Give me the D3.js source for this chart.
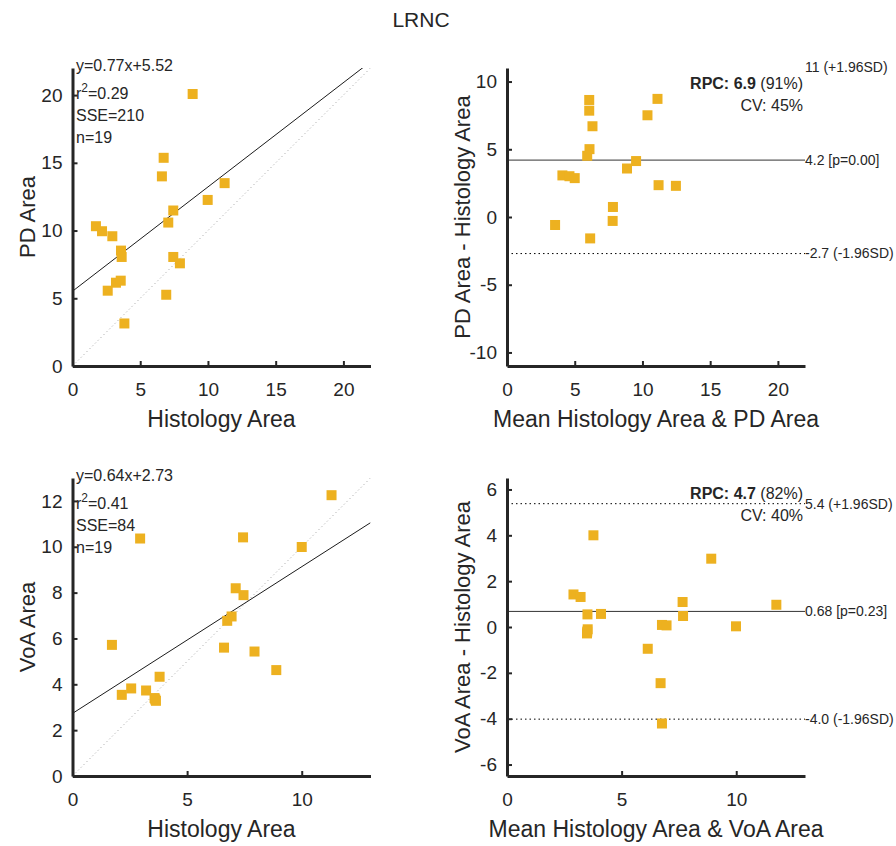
<!DOCTYPE html>
<html>
<head>
<meta charset="utf-8">
<script src="https://cdn.jsdelivr.net/npm/d3@7"></script>
<style>
  body { margin: 0; background: #fff; }
  text { font-family: Arial, "Liberation Sans", sans-serif; fill: #262626; }
</style>
</head>
<body>
<svg id="fig" width="896" height="846"></svg>
<script>
// ---- PD area vs histology ----
const pdHist = [8.87, 6.73, 6.60, 11.23, 9.98, 7.44, 7.07, 1.73, 2.18, 2.94, 3.58, 3.63, 7.44, 7.93, 3.21, 3.56, 2.60, 6.92, 3.83];
const pdArea = [20.08, 15.37, 14.00, 13.50, 12.26, 11.48, 10.59, 10.32, 9.95, 9.58, 8.52, 8.05, 8.05, 7.58, 6.15, 6.30, 5.56, 5.26, 3.14];
const pdFit = [0.77, 5.52];          // slope, intercept
const pdStats = ["0.29", "210", "19"]; // r^2, SSE, n

// Bland-Altman, PD vs histology (points outside the axes are not shown)
const pdMean = [6.07, 11.11, 6.07, 10.37, 6.31, 6.09, 5.92, 9.53, 8.86, 4.09, 4.61, 5.00, 11.19, 12.47, 7.82, 7.80, 3.55, 6.14];
const pdDiff = [8.64, 8.72, 7.85, 7.51, 6.70, 5.01, 4.52, 4.13, 3.58, 3.07, 3.01, 2.87, 2.35, 2.30, 0.74, -0.29, -0.59, -1.58];
const pdBias = 4.2, pdRPC = 6.9, pdRPCpct = 91, pdCV = 45, pdP = "0.00";

// ---- VoA area vs histology ----
const voaHist = [11.30, 2.95, 7.44, 10.00, 7.12, 7.46, 6.94, 6.75, 1.72, 6.61, 7.94, 8.89, 3.80, 2.56, 3.21, 2.15, 3.58, 3.64, 3.61];
const voaArea = [12.25, 10.36, 10.41, 9.99, 8.19, 7.89, 6.96, 6.77, 5.72, 5.60, 5.43, 4.62, 4.33, 3.82, 3.73, 3.54, 3.40, 3.28, 3.34];
const voaFit = [0.64, 2.73];
const voaStats = ["0.41", "84", "19"];

const voaMean = [3.77, 8.91, 2.90, 3.21, 7.66, 11.75, 3.51, 4.10, 7.68, 6.76, 6.96, 9.99, 3.52, 3.49, 3.50, 6.14, 6.70, 6.76];
const voaDiff = [4.00, 2.98, 1.42, 1.31, 1.09, 0.97, 0.55, 0.57, 0.48, 0.09, 0.07, 0.03, -0.10, -0.28, -0.20, -0.95, -2.45, -4.21];
const voaBias = 0.68, voaRPC = 4.7, voaRPCpct = 82, voaCV = 40, voaP = "0.23";

// ---- axis ticks ----
const ticks22 = [0, 5, 10, 15, 20];
const ticksBA22 = [-10, -5, 0, 5, 10];
const ticks13x = [0, 5, 10];
const ticks13y = [0, 2, 4, 6, 8, 10, 12];
const ticksBA6 = [-6, -4, -2, 0, 2, 4, 6];

const svg = d3.select("#fig");
const size = 298;
const cols = [72.5, 507];
const rows = [68, 478];
const markerColor = "#EDB120";
const ink = "#262626";

// plain hyphen-minus for negative numbers
const loc = d3.formatLocale({ decimal: ".", thousands: ",", grouping: [3], currency: ["$", ""], minus: "-" });
const fmt2 = loc.format(".2r");
const fmtTick = loc.format("d");

svg.append("text")
  .attr("x", 421).attr("y", 27)
  .attr("text-anchor", "middle")
  .style("font-size", "21px")
  .text("LRNC");

let clipId = 0;

function makePanel(left, top, xDomain, yDomain, xTicks, yTicks, xLabel, yLabel) {
  const g = svg.append("g").attr("transform", `translate(${left},${top})`);
  const x = d3.scaleLinear().domain(xDomain).range([0, size]);
  const y = d3.scaleLinear().domain(yDomain).range([size, 0]);
  const id = "clip" + (clipId++);
  g.append("clipPath").attr("id", id)
    .append("rect").attr("x", 0).attr("y", 0).attr("width", size).attr("height", size);
  const plot = g.append("g").attr("clip-path", `url(#${id})`);

  const ax = g.append("g").attr("transform", `translate(0,${size})`)
    .call(d3.axisBottom(x).tickValues(xTicks).tickFormat(fmtTick)
      .tickSizeInner(-5).tickSizeOuter(0).tickPadding(17));
  const ay = g.append("g")
    .call(d3.axisLeft(y).tickValues(yTicks).tickFormat(fmtTick)
      .tickSizeInner(-5).tickSizeOuter(0).tickPadding(10));
  [ax, ay].forEach(a => {
    a.select(".domain").attr("stroke", ink).attr("stroke-width", 3);
    a.selectAll(".tick line").attr("stroke", ink).attr("stroke-width", 2);
    a.selectAll(".tick text").style("font-size", "19px").attr("fill", ink);
  });

  g.append("text")
    .attr("x", size / 2).attr("y", size + 61)
    .attr("text-anchor", "middle")
    .style("font-size", "23px")
    .text(xLabel);
  g.append("text")
    .attr("transform", `translate(${-45},${size / 2}) rotate(-90)`)
    .attr("text-anchor", "middle")
    .attr("dy", "0.35em")
    .style("font-size", "22px")
    .text(yLabel);

  return { g, plot, x, y };
}

function drawSquares(p, xs, ys) {
  const s = 10;
  p.plot.selectAll("rect.pt")
    .data(xs.map((v, i) => [v, ys[i]]))
    .join("rect")
    .attr("class", "pt")
    .attr("x", d => p.x(d[0]) - s / 2)
    .attr("y", d => p.y(d[1]) - s / 2)
    .attr("width", s).attr("height", s)
    .attr("fill", markerColor);
}

function scatterPanel(left, top, xs, ys, dom, xTicks, yTicks, fit, stats, xLabel, yLabel) {
  const p = makePanel(left, top, dom, dom, xTicks, yTicks, xLabel, yLabel);
  // line of identity
  p.plot.append("line")
    .attr("x1", p.x(dom[0])).attr("y1", p.y(dom[0]))
    .attr("x2", p.x(dom[1])).attr("y2", p.y(dom[1]))
    .attr("stroke", "#9a9a9a").attr("stroke-width", 1).attr("stroke-dasharray", "1,3");
  // least-squares fit
  const line = d3.line().x(d => p.x(d)).y(d => p.y(fit[0] * d + fit[1]));
  p.plot.append("path")
    .attr("d", line(dom))
    .attr("fill", "none").attr("stroke", "#000").attr("stroke-width", 0.9);
  drawSquares(p, xs, ys);

  const t = p.g.append("g").style("font-size", "16px");
  t.append("text").attr("x", 3.5).attr("y", 3).text(`y=${fit[0]}x+${fit[1]}`);
  const r2 = t.append("text").attr("x", 3.5).attr("y", 31);
  r2.append("tspan").text("r");
  r2.append("tspan").attr("dy", -7).style("font-size", "12px").text("2");
  r2.append("tspan").attr("dy", 7).text("=" + stats[0]);
  t.append("text").attr("x", 3.5).attr("y", 53).text("SSE=" + stats[1]);
  t.append("text").attr("x", 3.5).attr("y", 75).text("n=" + stats[2]);
}

function baPanel(left, top, xs, ys, xDom, yDom, xTicks, yTicks, bias, rpc, rpcPct, cv, pval, xLabel, yLabel) {
  const p = makePanel(left, top, xDom, yDom, xTicks, yTicks, xLabel, yLabel);
  const levels = [
    { v: bias + rpc, dash: "1.5,3", label: fmt2(bias + rpc) + " (+1.96SD)" },
    { v: bias, dash: null, label: fmt2(bias) + " [p=" + pval + "]" },
    { v: bias - rpc, dash: "1.5,3", label: fmt2(bias - rpc) + " (-1.96SD)" }
  ];
  levels.forEach(l => {
    p.plot.append("line")
      .attr("x1", 0).attr("x2", size)
      .attr("y1", p.y(l.v)).attr("y2", p.y(l.v))
      .attr("stroke", l.dash ? "#000" : "#333")
      .attr("stroke-width", 1)
      .attr("stroke-dasharray", l.dash);
    p.g.append("text")
      .attr("x", size).attr("y", p.y(l.v))
      .attr("dy", "0.35em")
      .style("font-size", "14px")
      .text(l.label);
  });
  drawSquares(p, xs, ys);

  const r = p.g.append("text")
    .attr("x", size - 2).attr("y", 21)
    .attr("text-anchor", "end")
    .style("font-size", "16px");
  r.append("tspan").style("font-weight", "bold").text(`RPC: ${rpc}`);
  r.append("tspan").text(` (${rpcPct}%)`);
  p.g.append("text")
    .attr("x", size - 2).attr("y", 43)
    .attr("text-anchor", "end")
    .style("font-size", "16px")
    .text(`CV: ${cv}%`);
}

scatterPanel(cols[0], rows[0], pdHist, pdArea, [0, 22], ticks22, ticks22, pdFit, pdStats,
  "Histology Area", "PD Area");
baPanel(cols[1], rows[0], pdMean, pdDiff, [0, 22], [-11, 11], ticks22, ticksBA22,
  pdBias, pdRPC, pdRPCpct, pdCV, pdP,
  "Mean Histology Area & PD Area", "PD Area - Histology Area");
scatterPanel(cols[0], rows[1], voaHist, voaArea, [0, 13], ticks13x, ticks13y, voaFit, voaStats,
  "Histology Area", "VoA Area");
baPanel(cols[1], rows[1], voaMean, voaDiff, [0, 13], [-6.5, 6.5], ticks13x, ticksBA6,
  voaBias, voaRPC, voaRPCpct, voaCV, voaP,
  "Mean Histology Area & VoA Area", "VoA Area - Histology Area");
</script>
</body>
</html>
